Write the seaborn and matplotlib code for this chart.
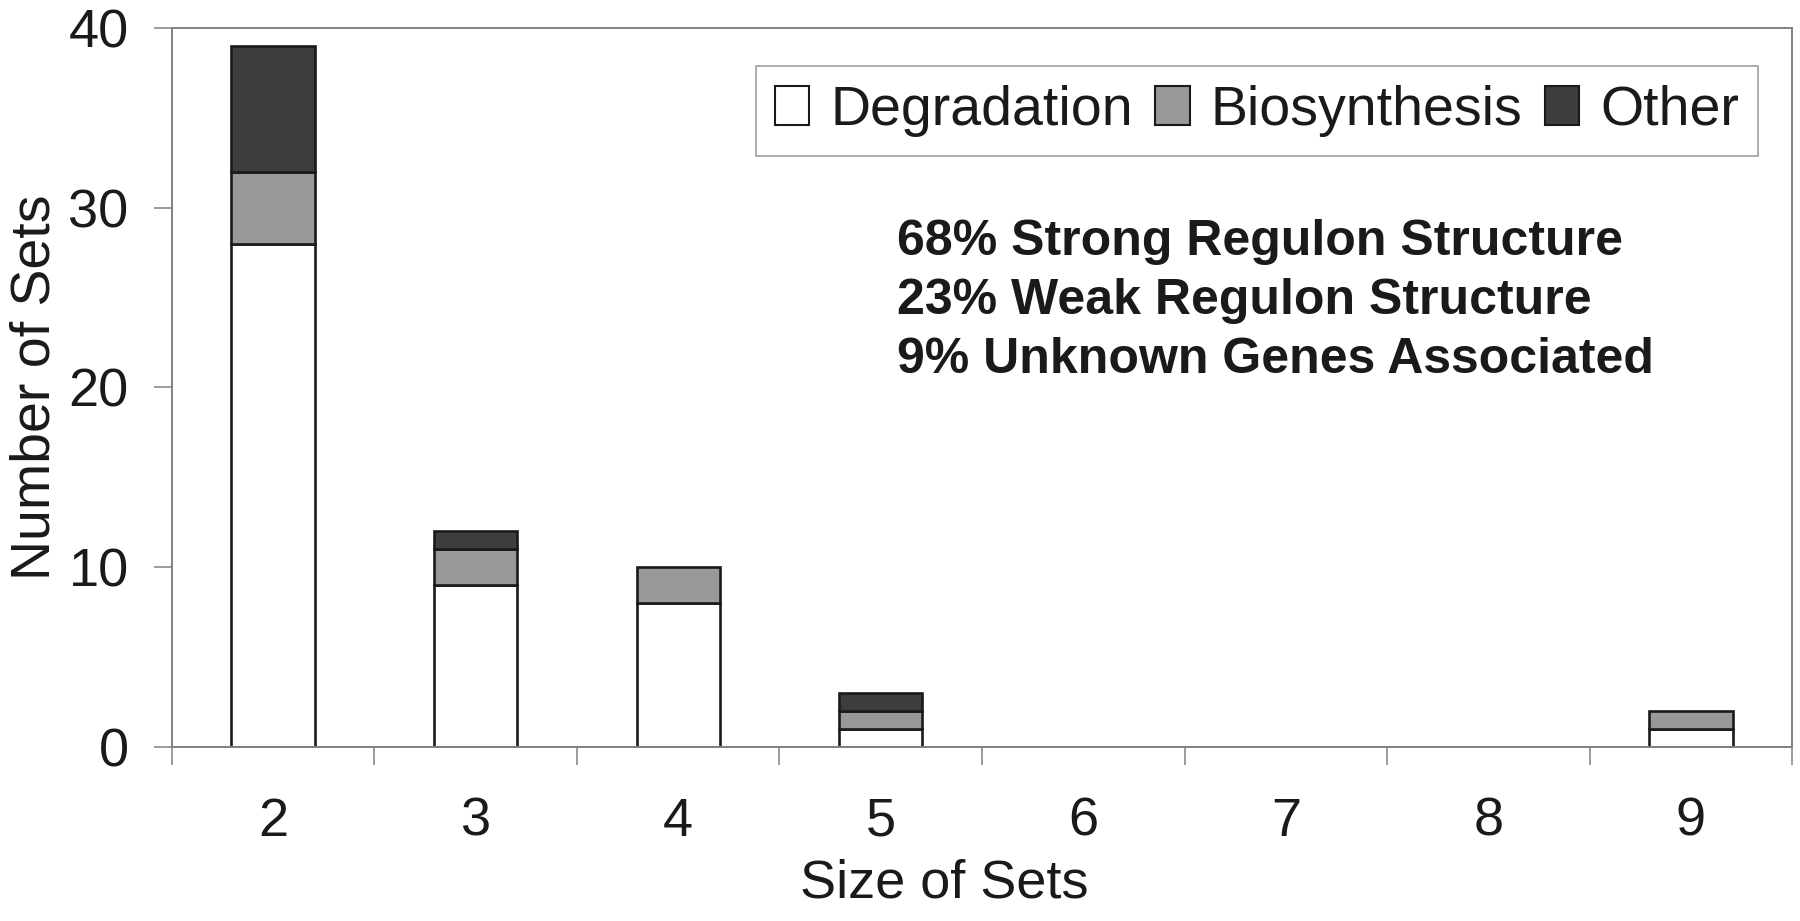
import numpy as np
import pandas as pd
import seaborn as sns
import matplotlib.pyplot as plt
from matplotlib.patches import Patch

# values
sizes = ['2', '3', '4', '5', '6', '7', '8', '9']
degradation = [28, 9, 8, 1, 0, 0, 0, 1]
biosynthesis = [4, 2, 2, 1, 0, 0, 0, 1]
other = [7, 1, 0, 1, 0, 0, 0, 0]
notes = ['68% Strong Regulon Structure',
         '23% Weak Regulon Structure',
         '9% Unknown Genes Associated']

df = pd.DataFrame({'size': sizes, 'Degradation': degradation,
                   'Biosynthesis': biosynthesis, 'Other': other})

sns.set_style('white')
plt.rcParams['font.family'] = ['Liberation Sans', 'DejaVu Sans']

fig = plt.figure(figsize=(18, 9.21), dpi=100)
ax = fig.add_axes([0.0954, 0.189, 0.9003, 0.7807])

colors = {'Degradation': '#ffffff', 'Biosynthesis': '#999999', 'Other': '#3d3d3d'}
bottom = np.zeros(len(sizes))
for col in ['Degradation', 'Biosynthesis', 'Other']:
    sns.barplot(data=df, x='size', y=col, color=colors[col], bottom=bottom,
                width=0.41, edgecolor='#1a1a1a', linewidth=1.9,
                saturation=1, ax=ax)
    bottom = bottom + df[col].values

# empty segments would leave a dark stroke on the axis line
for p in ax.patches:
    if p.get_height() == 0:
        p.set_visible(False)

ax.set_ylim(0, 40)
ax.set_xlim(-0.5, len(sizes) - 0.5)
ax.set_yticks([0, 10, 20, 30, 40])
ax.set_xticks(range(len(sizes)))
ax.set_xticklabels(sizes)
ax.set_xticks(np.arange(-0.5, len(sizes)), minor=True)

for s in ax.spines.values():
    s.set_color('#808080')
    s.set_linewidth(1.4)

ax.tick_params(axis='y', which='major', direction='out', length=13, width=1.1,
               color='#808080', labelsize=39, pad=18, left=True,
               labelcolor='#1a1a1a')
ax.tick_params(axis='x', which='major', length=0, labelsize=39, pad=36,
               labelcolor='#1a1a1a')
ax.tick_params(axis='x', which='minor', direction='out', length=13, width=1.1,
               color='#808080', bottom=True)

ax.set_xlabel('Size of Sets', fontsize=39, labelpad=8, color='#1a1a1a')
ax.set_ylabel('Number of Sets', fontsize=40, labelpad=5, color='#1a1a1a')
ax.xaxis.label.set_x(0.477)

handles = [Patch(facecolor=colors[c], edgecolor='#1a1a1a', linewidth=1.5, label=c)
           for c in ['Degradation', 'Biosynthesis', 'Other']]
leg = ax.legend(handles=handles, ncol=3, fontsize=40, loc='upper right',
                bbox_to_anchor=(0.979, 0.947), frameon=True, fancybox=False,
                handlelength=0.62, handleheight=0.72, handletextpad=0.38,
                columnspacing=0.4, borderpad=0.34, borderaxespad=0)
leg.get_frame().set_edgecolor('#999999')
leg.get_frame().set_linewidth(1.4)
for t in leg.get_texts():
    t.set_color('#1a1a1a')

for i, t in enumerate(notes):
    ax.text(0.4476, 0.684 - i * 0.082, t, transform=ax.transAxes,
            fontsize=36, fontweight='bold', color='#1a1a1a',
            va='baseline', ha='left')

fig.savefig('out.png', dpi=100)
